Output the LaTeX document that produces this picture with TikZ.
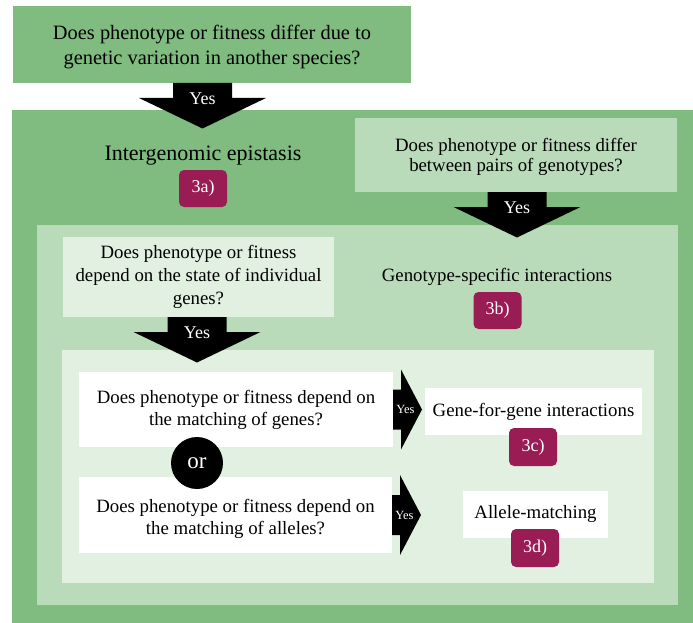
\documentclass[tikz,border=0pt]{standalone}
\usepackage{fontspec}
\setmainfont{Liberation Serif}
\usetikzlibrary{calc}
\definecolor{gOuter}{HTML}{80BB80}
\definecolor{gMid}{HTML}{BADBBA}
\definecolor{gInner}{HTML}{E2F0E2}
\definecolor{badgec}{HTML}{9A1C55}
\begin{document}
\begin{tikzpicture}[x=1pt,y=-1pt,
  every node/.style={inner sep=0pt, outer sep=0pt},
  panel/.style={rectangle, anchor=center},
  qtext/.style={align=center, font=\fontsize{18.8}{22}\selectfont},
  badge/.style={fill=badgec, rounded corners=5pt, text=white, minimum width=48pt, minimum height=37pt, font=\fontsize{18}{20}\selectfont},
  yesbig/.style={text=white, font=\fontsize{18}{20}\selectfont},
  yessmall/.style={text=white, font=\fontsize{12.5}{14}\selectfont},
  orstyle/.style={circle, fill=black, text=white, minimum size=52pt, font=\fontsize{23}{25}\selectfont},
  downarr/.pic={\fill[black] (-29.5,0) -- (29.5,0) -- (29.5,15) -- (63.5,15) -- (0,45.5) -- (-63.5,15) -- (-29.5,15) -- cycle;
                \node[yesbig] at (0,15.5) {Yes};},
  rightarr/.pic={\fill[black] (0,-20) -- (8,-20) -- (8,-40) -- (29,0) -- (8,40) -- (8,20) -- (0,20) -- cycle;
                 \node[yessmall] at (12.5,0) {Yes};}
]
\useasboundingbox (0,0) rectangle (693,623);
\fill[white] (0,0) rectangle (693,623);

% nested panels
\node[panel, fill=gOuter, minimum width=681pt, minimum height=513pt] (outer) at (352.5,366.5) {};
\node[panel, fill=gMid, minimum width=641pt, minimum height=380pt] (mid) at (357.5,415) {};
\node[panel, fill=gInner, minimum width=592pt, minimum height=233pt] (inner) at (358,466.5) {};

% question boxes
\node[panel, fill=gOuter, minimum width=398pt, minimum height=77pt] (q1) at (212,44.5) {};
\node[align=center, font=\fontsize{20.4}{25}\selectfont] (q1t) at ($(q1.center)+(0,2.5)$)
      {Does phenotype or fitness differ due to\\genetic variation in another species?};
\node[panel, fill=gMid, minimum width=322pt, minimum height=74pt] (q2) at (516,155) {};
\node[align=center, font=\fontsize{18.8}{20}\selectfont] (q2t) at ($(q2.center)+(0,2)$)
      {Does phenotype or fitness differ\\between pairs of genotypes?};
\node[panel, fill=gInner, minimum width=271pt, minimum height=80pt, qtext,
      font=\fontsize{18.8}{23}\selectfont] (q3) at (198.5,277)
      {Does phenotype or fitness\\depend on the state of individual\\genes?};
\node[panel, fill=white, minimum width=314pt, minimum height=75pt, qtext] (q4) at (236,409.5)
      {Does phenotype or fitness depend on\\the matching of genes?};
\node[panel, fill=white, minimum width=313pt, minimum height=76pt] (q5) at (235.5,515) {};
\node[qtext] (q5t) at ($(q5.center)+(0,4)$)
      {Does phenotype or fitness depend on\\the matching of alleles?};

% result boxes
\node[panel, fill=white, minimum width=217pt, minimum height=47pt, qtext] (r3c) at (533.5,411.5)
      {Gene-for-gene interactions};
\node[panel, fill=white, minimum width=145pt, minimum height=47pt, qtext] (r3d) at (535.5,514.5)
      {Allele-matching};

% titles
\node[font=\fontsize{22}{24}\selectfont] (t3a) at (203,156) {Intergenomic epistasis};
\node[qtext] (t3b) at (497,277) {Genotype-specific interactions};

% arrows
\coordinate (a1) at ($(q1.south)+(-9.5,0)$);
\pic at (a1) {downarr};
\coordinate (a2) at ($(q2.south)+(1,0)$);
\pic at (a2) {downarr};
\coordinate (a3) at ($(q3.south)+(-1.5,0)$);
\pic at (a3) {downarr};
\coordinate (a4) at (q4.east);
\pic at (a4) {rightarr};
\coordinate (a5) at (q5.east);
\pic at (a5) {rightarr};

% badges
\node[badge] (b3a) at (203,188.5) {3a)};
\node[badge] (b3b) at (497.5,310.5) {3b)};
\node[badge, minimum height=38pt] (b3c) at (533,447) {3c)};
\node[badge, minimum height=38pt] (b3d) at (535,548) {3d)};

% or
\node[orstyle] (or) at (197,463) {or};
\end{tikzpicture}
\end{document}
